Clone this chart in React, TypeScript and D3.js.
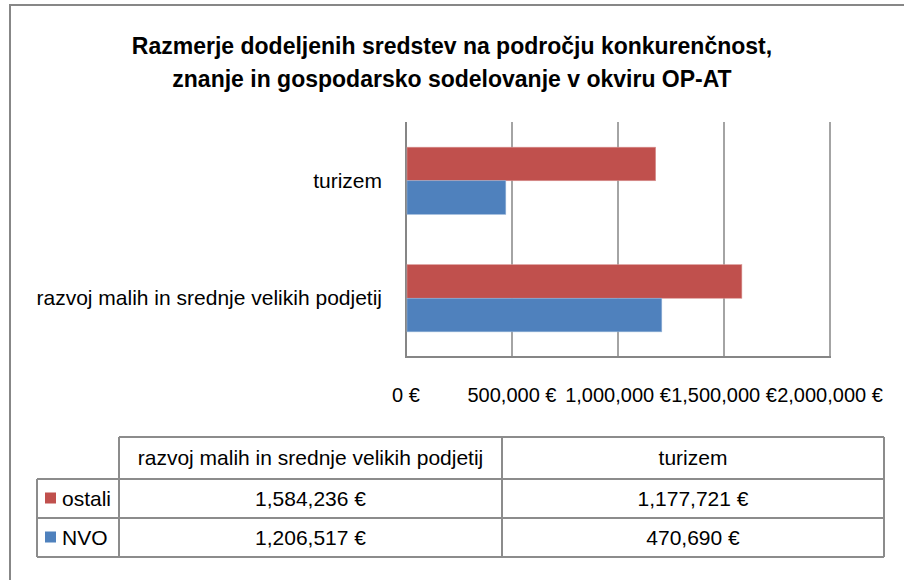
import React from "react";
import * as d3 from "d3";

const categories = ["turizem", "razvoj malih in srednje velikih podjetij"];
const tableCategories = ["razvoj malih in srednje velikih podjetij", "turizem"];
const seriesNames = ["ostali", "NVO"];
const ostaliValues = [1177721, 1584236];
const nvoValues = [470690, 1206517];
const ostaliTable = ["1,584,236 €", "1,177,721 €"];
const nvoTable = ["1,206,517 €", "470,690 €"];
const xTicks = [0, 500000, 1000000, 1500000, 2000000];
const titleLines = [
  "Razmerje dodeljenih sredstev na področju konkurenčnost,",
  "znanje in gospodarsko sodelovanje v okviru OP-AT",
];
const colors = ["#C0504D", "#4F81BD"];

const FONT = "'Liberation Sans', Arial, sans-serif";

export default function App() {
  const W = 904;
  const H = 580;
  const x = d3.scaleLinear().domain([0, 2000000]).range([406, 830]);
  const y = d3
    .scaleBand<string>()
    .domain(categories)
    .range([122, 357])
    .paddingInner(1.5 / 3.5)
    .paddingOuter(0.75 / 3.5);
  const inner = d3
    .scaleBand<string>()
    .domain(seriesNames)
    .range([0, y.bandwidth()]);
  const seriesValues = [ostaliValues, nvoValues];
  const fmt = (v: number) => d3.format(",")(v) + " €";
  const grid = "#868686";

  const tblLeft = 119;
  const legLeft = 37;
  const tblRight = 884;
  const colDiv = 502;
  const rowY = [437, 479, 518, 557];
  const colCenters = [(tblLeft + colDiv) / 2, (colDiv + tblRight) / 2];
  const tableRows = [ostaliTable, nvoTable];
  const fs = 21;

  return (
    <svg
      width={W}
      height={H}
      style={{ position: "absolute", left: 0, top: 0, background: "#fff" }}
      fontFamily={FONT}
    >
      <rect x={0} y={0} width={W} height={H} fill="#fff" />
      <rect
        x={10}
        y={5}
        width={W + 20}
        height={H + 20}
        fill="none"
        stroke="#878787"
        strokeWidth={2}
      />
      {titleLines.map((t, i) => (
        <text
          key={i}
          x={452}
          y={54 + i * 33}
          textAnchor="middle"
          fontWeight="bold"
          fontSize={23}
          fill="#000"
        >
          {t}
        </text>
      ))}
      {/* gridlines */}
      {xTicks.map((t) => (
        <line
          key={t}
          x1={x(t)}
          x2={x(t)}
          y1={122}
          y2={357}
          stroke={grid}
          strokeWidth={t === 0 ? 2 : 1.5}
        />
      ))}
      {/* bars */}
      {categories.map((c, ci) =>
        seriesNames.map((s, si) => (
          <rect
            key={c + s}
            x={x(0) + 1}
            y={(y(c) ?? 0) + (inner(s) ?? 0)}
            width={x(seriesValues[si][ci]) - x(0) - 1}
            height={inner.bandwidth()}
            fill={colors[si]}
            stroke={si === 0 ? "#d99694" : "#95b3d7"}
            strokeWidth={0.6}
          />
        ))
      )}
      <line x1={405} x2={831} y1={357} y2={357} stroke={grid} strokeWidth={2} />
      {/* category labels */}
      {categories.map((c) => (
        <text
          key={c}
          x={382}
          y={(y(c) ?? 0) + y.bandwidth() / 2 + 7}
          textAnchor="end"
          fontSize={fs}
          fill="#000"
        >
          {c}
        </text>
      ))}
      {/* tick labels */}
      {xTicks.map((t) => (
        <text key={t} x={x(t)} y={402} textAnchor="middle" fontSize={20} fill="#000">
          {fmt(t)}
        </text>
      ))}
      {/* data table */}
      <g stroke="#8c8c8c" strokeWidth={2} fill="none">
        <line x1={tblLeft} x2={tblRight} y1={rowY[0]} y2={rowY[0]} />
        <line x1={legLeft} x2={tblRight} y1={rowY[1]} y2={rowY[1]} />
        <line x1={legLeft} x2={tblRight} y1={rowY[2]} y2={rowY[2]} />
        <line x1={legLeft} x2={tblRight} y1={rowY[3]} y2={rowY[3]} />
        <line x1={tblLeft} x2={tblLeft} y1={rowY[0]} y2={rowY[3]} />
        <line x1={legLeft} x2={legLeft} y1={rowY[1]} y2={rowY[3]} />
        <line x1={colDiv} x2={colDiv} y1={rowY[0]} y2={rowY[3]} />
        <line x1={tblRight} x2={tblRight} y1={rowY[0]} y2={rowY[3]} />
      </g>
      {tableCategories.map((c, i) => (
        <text
          key={c}
          x={colCenters[i]}
          y={(rowY[0] + rowY[1]) / 2 + 7}
          textAnchor="middle"
          fontSize={fs}
          fill="#000"
        >
          {c}
        </text>
      ))}
      {seriesNames.map((s, ri) => (
        <g key={s}>
          <rect
            x={45}
            y={(rowY[ri + 1] + rowY[ri + 2]) / 2 - 6}
            width={11}
            height={11}
            fill={colors[ri]}
          />
          <text
            x={62}
            y={(rowY[ri + 1] + rowY[ri + 2]) / 2 + 7}
            fontSize={fs}
            fill="#000"
          >
            {s}
          </text>
          {tableRows[ri].map((v, ci) => (
            <text
              key={ci}
              x={colCenters[ci]}
              y={(rowY[ri + 1] + rowY[ri + 2]) / 2 + 7}
              textAnchor="middle"
              fontSize={fs}
              fill="#000"
            >
              {v}
            </text>
          ))}
        </g>
      ))}
    </svg>
  );
}
